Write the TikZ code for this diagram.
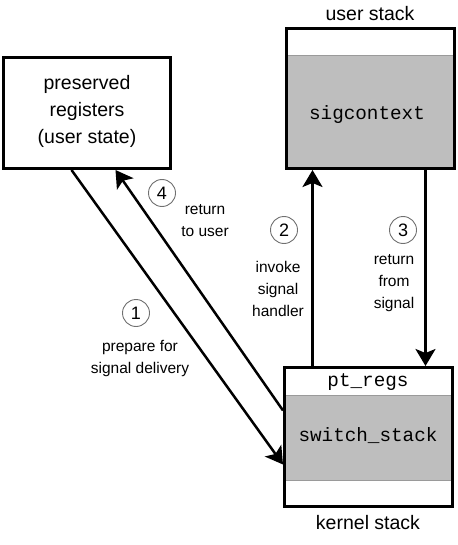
\documentclass[tikz,border=0pt]{standalone}
\usepackage{fontspec}
\setmainfont{Liberation Sans}
\setmonofont{Liberation Mono}
\usetikzlibrary{arrows.meta}
\definecolor{stackgray}{HTML}{BEBEBE}
\definecolor{sepgray}{HTML}{9A9A9A}
\definecolor{circgray}{HTML}{707070}
\tikzset{
  frame/.style={draw=black, line width=3pt, inner sep=0pt},
  bigtxt/.style={font=\fontsize{19.5}{27}\selectfont, align=center, inner sep=0pt},
  monotxt/.style={font=\ttfamily\fontsize{19.3}{22}\selectfont, inner sep=0pt},
  lbl/.style={font=\fontsize{15.5}{22}\selectfont, align=center, inner sep=0pt},
  num/.style={circle, draw=circgray, line width=0.9pt, minimum size=27pt, inner sep=0pt, font=\fontsize{18}{18}\selectfont},
  arr/.style={line width=2.5pt, -{Stealth[length=17pt,width=20pt,inset=4pt]}},
}
\begin{document}
\begin{tikzpicture}[x=1pt,y=-1pt]
\useasboundingbox (0,0) rectangle (457,545);
% stack fills and separators
\fill[stackgray] (286.5,55) rectangle (454.5,168.5);
\draw[sepgray, line width=0.8pt] (286.5,55) -- (454.5,55);
\fill[stackgray] (284.5,395) rectangle (452.5,480);
\draw[sepgray, line width=0.8pt] (284.5,395) -- (452.5,395);
\draw[sepgray, line width=0.8pt] (284.5,480) -- (452.5,480);
% boxes
\node[frame, minimum width=167pt, minimum height=111pt] (pres) at (87,113) {};
\node[frame, minimum width=168pt, minimum height=140pt] (us) at (370.5,98.5) {};
\node[frame, minimum width=168pt, minimum height=139pt] (ks) at (368.5,437) {};
% texts
\node[bigtxt] (prestxt) at (87,111) {preserved\\registers\\(user state)};
\node[bigtxt] (ustitle) at (370,14) {user stack};
\node[bigtxt] (kstitle) at (368,523) {kernel stack};
\node[monotxt] (sigc) at (367,115) {sigcontext};
\node[monotxt] (ptregs) at (368,382) {pt\_regs};
\node[monotxt] (swst) at (368,436) {switch\_stack};
% arrows
\draw[arr] ([xshift=69.5pt]pres.south west) -- ([yshift=-98.5pt]ks.north west);
\draw[arr] ([yshift=-44.5pt]ks.north west) -- ([xshift=113.5pt]pres.south west);
\draw[arr] ([xshift=29.5pt]ks.north west) -- ([xshift=27.5pt]us.south west);
\draw[arr] ([xshift=140.5pt]us.south west) -- ([xshift=142.5pt]ks.north west);
% numbers
\node[num] (n1) at (136,313) {1};
\node[num] (n2) at (284,230) {2};
\node[num] (n3) at (403,230) {3};
\node[num] (n4) at (162,193) {4};
% labels
\node[lbl] (l1) at (140,358) {prepare for\\signal delivery};
\node[lbl] (l2) at (278,289) {invoke\\signal\\handler};
\node[lbl] (l3) at (394,283) {return\\from\\signal};
\node[lbl] (l4) at (205,221) {return\\to user};
\end{tikzpicture}
\end{document}
